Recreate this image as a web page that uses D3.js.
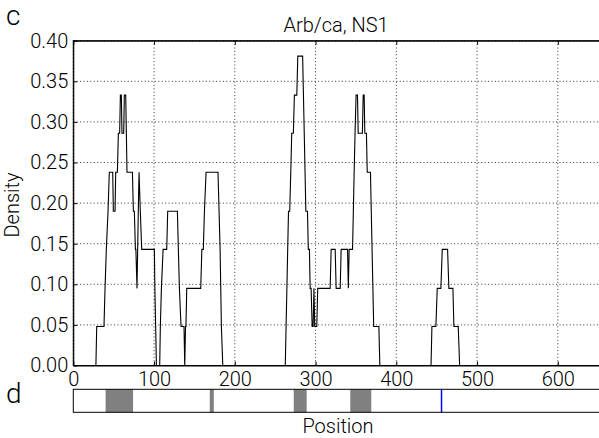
<!DOCTYPE html>
<html>
<head>
<meta charset="utf-8">
<script src="https://cdn.jsdelivr.net/npm/d3@7"></script>
<style>
  body { margin: 0; background: #fff; }
  text { font-family: Roboto, "Liberation Sans", Arial, sans-serif; font-weight: 300; fill: #000; }
</style>
</head>
<body>
<svg id="chart" width="599" height="438"></svg>
<script>
const xTicks = [0, 100, 200, 300, 400, 500, 600];
const yTicks = [0, 0.05, 0.10, 0.15, 0.20, 0.25, 0.30, 0.35, 0.40];
const seqLength = 652;

// density plateaus: [start position, end position, density]
const densitySteps = [
  [0, 28, 0], [29, 38, 0.048], [39.3, 39.3, 0.095], [40.9, 40.9, 0.143],
  [43, 43, 0.190], [44.6, 48.8, 0.238], [49.6, 51.7, 0.190], [52.5, 54.6, 0.238],
  [55.8, 57.4, 0.286], [58.3, 59.5, 0.333], [60.3, 62.4, 0.286], [63.2, 64.9, 0.333],
  [65.7, 65.7, 0.286], [66.5, 73.2, 0.238], [74.4, 75.6, 0.190], [76.9, 77.5, 0.143],
  [78.9, 78.9, 0.095], [79.7, 79.7, 0.143], [80.5, 80.5, 0.190], [81.4, 81.4, 0.238],
  [83, 83, 0.190], [84.7, 100.4, 0.143], [101, 101, 0.095], [102, 102, 0.048],
  [102.9, 107, 0], [107.8, 107.8, 0.048], [109.1, 109.1, 0.095], [111.2, 115.7, 0.143],
  [116.9, 128.9, 0.190], [130.1, 130.1, 0.143], [131.4, 131.4, 0.095], [133.4, 137.1, 0.048],
  [138, 138, 0], [139, 139.5, 0.048], [140.5, 157.8, 0.095], [159.2, 161, 0.143],
  [162.4, 162.4, 0.190], [164.4, 179.2, 0.238], [180.5, 180.5, 0.190], [181.8, 181.8, 0.143],
  [182.6, 182.6, 0.095], [183.4, 183.4, 0.048], [185.1, 262.5, 0],
  [263.5, 263.5, 0.048], [264.5, 264.5, 0.095], [265.5, 265.5, 0.143], [266.5, 268, 0.190],
  [269.3, 269.3, 0.238], [270.5, 272.5, 0.286], [273.8, 276.8, 0.333], [278, 284, 0.381],
  [285, 285, 0.333], [286, 286, 0.286], [287, 287, 0.238], [288, 290, 0.190],
  [291, 292.4, 0.143], [293.3, 294.5, 0.095], [295.8, 297, 0.048], [298, 298, 0.095],
  [299, 301.5, 0.048], [302.7, 318.1, 0.095], [319.3, 324.3, 0.143], [325.5, 330.5, 0.095],
  [331.7, 339.6, 0.143], [340.6, 340.6, 0.095], [341.6, 345.8, 0.143], [346.8, 346.8, 0.190],
  [347.8, 347.8, 0.238], [348.9, 348.9, 0.286], [350.2, 351.9, 0.333], [352.8, 358, 0.286],
  [359, 360.2, 0.333], [361, 363, 0.286], [364, 368, 0.238], [369, 369, 0.190],
  [370, 370, 0.143], [371, 371, 0.095], [372, 378.4, 0.048], [379.6, 443, 0],
  [444.1, 449, 0.048], [450.7, 455.2, 0.095], [456.9, 463.5, 0.143], [465.1, 470.1, 0.095],
  [471.3, 476.7, 0.048], [478.4, 652, 0]
];

// shaded regions in the lower bar, and the marked site
const regions = [[40, 74], [169, 174], [273, 289], [343, 369]];
const markers = [456];

const svg = d3.select("#chart");
const plotLeft = 73.3, plotRight = 599.8, plotTop = 40.7, plotBottom = 365.5;

const x = d3.scaleLinear().domain([0, seqLength]).range([plotLeft, plotRight]);
const y = d3.scaleLinear().domain([0, 0.4]).range([plotBottom, plotTop]);

// dotted grid
svg.append("g")
  .selectAll("line")
  .data(xTicks)
  .enter().append("line")
  .attr("x1", d => x(d)).attr("x2", d => x(d))
  .attr("y1", plotTop).attr("y2", plotBottom)
  .attr("stroke", "#333").attr("stroke-width", 1)
  .attr("stroke-dasharray", "1,2.4");

svg.append("g")
  .selectAll("line")
  .data(yTicks)
  .enter().append("line")
  .attr("x1", plotLeft).attr("x2", plotRight)
  .attr("y1", d => y(d)).attr("y2", d => y(d))
  .attr("stroke", "#333").attr("stroke-width", 1)
  .attr("stroke-dasharray", "1,2.4");

// density curve
const points = densitySteps.flatMap(d => [[d[0], d[2]], [d[1], d[2]]]);
const line = d3.line().x(d => x(d[0])).y(d => y(d[1]));
svg.append("path")
  .datum(points)
  .attr("d", line)
  .attr("fill", "none")
  .attr("stroke", "#000")
  .attr("stroke-width", 1.1);

// axes with inward ticks
const xAxis = d3.axisBottom(x).tickValues(xTicks).tickSize(-4).tickSizeOuter(0).tickPadding(6);
const yAxis = d3.axisLeft(y).tickValues(yTicks).tickFormat(d3.format(".2f"))
  .tickSize(-4).tickSizeOuter(0).tickPadding(5);

const gx = svg.append("g").attr("transform", `translate(0,${plotBottom})`).call(xAxis);
const gy = svg.append("g").attr("transform", `translate(${plotLeft},0)`).call(yAxis);
svg.append("g").attr("transform", `translate(0,${plotTop})`)
  .call(d3.axisTop(x).tickValues(xTicks).tickSize(-4).tickSizeOuter(0).tickFormat(""));

[gx, gy].forEach(g => {
  g.attr("font-family", null);
  g.selectAll("text").style("font-size", "20px").attr("fill", "#000");
  g.selectAll("line, path").attr("stroke", "#000");
});

svg.append("rect")
  .attr("x", plotLeft).attr("y", plotTop)
  .attr("width", plotRight - plotLeft).attr("height", plotBottom - plotTop)
  .attr("fill", "none").attr("stroke", "#000").attr("stroke-width", 1);

// labels
svg.append("text").attr("x", 336).attr("y", 32).attr("text-anchor", "middle")
  .style("font-size", "20px").text("Arb/ca, NS1");
svg.append("text").attr("transform", "translate(19,205) rotate(-90)")
  .attr("text-anchor", "middle").style("font-size", "20px").text("Density");
svg.append("text").attr("x", 6).attr("y", 25).style("font-size", "28px").text("c");
svg.append("text").attr("x", 6).attr("y", 403).style("font-size", "28px").text("d");

// lower bar with domains
const barTop = 389.3, barBottom = 412.3;
svg.append("rect")
  .attr("x", plotLeft).attr("y", barTop)
  .attr("width", plotRight - plotLeft).attr("height", barBottom - barTop)
  .attr("fill", "#fff");

svg.append("g")
  .selectAll("rect")
  .data(regions)
  .enter().append("rect")
  .attr("x", d => x(d[0]))
  .attr("y", barTop)
  .attr("width", d => x(d[1]) - x(d[0]))
  .attr("height", barBottom - barTop)
  .attr("fill", "#808080");

svg.append("g")
  .selectAll("line")
  .data(markers)
  .enter().append("line")
  .attr("x1", d => x(d)).attr("x2", d => x(d))
  .attr("y1", barTop).attr("y2", barBottom)
  .attr("stroke", "#0000ff").attr("stroke-width", 1.5);

svg.append("rect")
  .attr("x", plotLeft).attr("y", barTop)
  .attr("width", plotRight - plotLeft).attr("height", barBottom - barTop)
  .attr("fill", "none").attr("stroke", "#000").attr("stroke-width", 1);

svg.append("text").attr("x", 338).attr("y", 433).attr("text-anchor", "middle")
  .style("font-size", "20px").text("Position");
</script>
</body>
</html>
